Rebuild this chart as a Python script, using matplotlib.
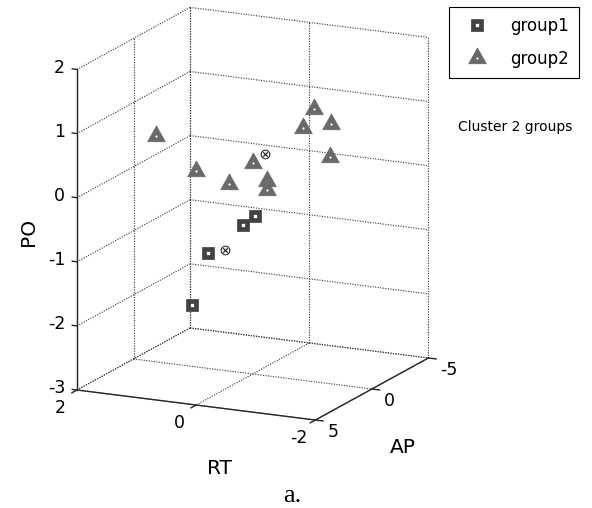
import numpy as np
import matplotlib
matplotlib.use('Agg')
import matplotlib.pyplot as plt
from matplotlib.markers import MarkerStyle
from matplotlib.path import Path
from matplotlib.legend_handler import HandlerTuple
from mpl_toolkits.mplot3d import proj3d

W, H = 592, 508

# group1 (squares): RT, AP, PO
rt1 = [-0.22, -0.23, 0.18, 1.02]
ap1 = [2, 1, 3, 0]
po1 = [-0.45, -0.41, -0.84, -2.04]

# group2 (triangles)
rt2 = [1.81, -0.46, -0.66, -0.94, -1.29, 0.76, 0.18, 0.02, -0.24, -0.43]
ap2 = [-1, -3, -1, -2, 0, 1, -1, 2, 0, 1]
po2 = [0.41, 0.90, 0.81, 0.82, 0.53, 0.18, 0.18, 0.16, 0.04, 0.02]

labels = ['group1', 'group2']
rtTicks = [2, 0, -2]
apTicks = [5, 0, -5]
poTicks = [-3, -2, -1, 0, 1, 2]
rtLim = (2, -2)
apLim = (5, -5)
poLim = (-3, 2)

fig = plt.figure(figsize=(W / 100, H / 100), dpi=100)
ax = fig.add_axes([0.1, 0.1, 0.8, 0.8], projection='3d', proj_type='ortho')
ax.set_xlim(*rtLim)
ax.set_ylim(*apLim)
ax.set_zlim(*poLim)
ax.set_xticks([])
ax.set_yticks([])
ax.set_zticks([])
ax.set_box_aspect((1, 0.99, 1.257))
ax.view_init(elev=15.25, azim=-64.4)
ax.set_axis_off()

x0, x1 = rtLim
y0, y1 = apLim
z0, z1 = poLim

gridKw = dict(color='0.2', lw=0.8, ls=(0, (1, 1.3)))
axKw = dict(color='0.15', lw=1.0)
tickFont = 12.5


def label3d(x, y, z, s, **kw):
    # tick label placed at the projected position of a 3d point
    xs, ys, _ = proj3d.proj_transform(x, y, z, ax.get_proj())
    ax.text2D(xs, ys, s, fontsize=tickFont, **kw)


# dotted grid on back wall, side wall and floor
for z in poTicks:
    ax.plot([x0, x1], [y1, y1], [z, z], **gridKw)
    ax.plot([x0, x0], [y0, y1], [z, z], **gridKw)
for x in rtTicks:
    ax.plot([x, x], [y1, y1], [z0, z1], **gridKw)
    ax.plot([x, x], [y0, y1], [z0, z0], **gridKw)
for y in apTicks:
    ax.plot([x0, x0], [y, y], [z0, z1], **gridKw)
    ax.plot([x0, x1], [y, y], [z0, z0], **gridKw)

# solid axes
ax.plot([x0, x0], [y0, y0], [z0, z1], **axKw)
ax.plot([x0, x1], [y0, y0], [z0, z0], **axKw)
ax.plot([x1, x1], [y0, y1], [z0, z0], **axKw)

for z in poTicks:
    ax.plot([x0, x0 + 0.08], [y0, y0], [z, z], **axKw)
    label3d(x0 + 0.2, y0, z, str(z), ha='right', va='center')
for x in rtTicks:
    ax.plot([x, x], [y0, y0 + 0.45], [z0, z0], **axKw)
    label3d(x, y0 + 1.5, z0 - 0.13, str(x), ha='center', va='center')
for y in apTicks:
    ax.plot([x1, x1 - 0.13], [y, y], [z0, z0], **axKw)
    label3d(x1 - 0.2, y, z0 - 0.17, str(y), ha='left', va='center')

# data
triMarker = MarkerStyle(Path([(0, 1), (-0.84, -0.5), (0.84, -0.5), (0, 1)], closed=True),
                        joinstyle='miter')
triKw = dict(ls='none', marker=triMarker, ms=15, mew=0.6, color='#696969')
dotKw = dict(ls='none', marker='o', ms=1.6, mew=0, color='white')

sq, = ax.plot(rt1, ap1, po1, ls='none', marker='s', ms=6.4, mew=3.4,
              mfc='white', mec='#424242')
for rt, ap, po in zip(rt2, ap2, po2):
    tri, = ax.plot([rt], [ap], [po], **triKw)
    dot, = ax.plot([rt], [ap], [po], **dotKw)

# cluster centres
for rt, ap, po in [(rt1, ap1, po1), (rt2, ap2, po2)]:
    ax.plot([np.mean(rt)], [np.mean(ap)], [np.mean(po)], ls='none',
            marker=r'$\otimes$', ms=7, color='#222222', mew=0)

# place the box like the original figure
cornerA, targetA = (x0, y0, z0), np.array([77, H - 390])
cornerB, targetB = (x1, y1, z1), np.array([428, H - 37])


def toPx(p):
    xs, ys, _ = proj3d.proj_transform(*p, ax.get_proj())
    return ax.transData.transform((xs, ys))


S = 480
ax.set_position([0.05, 0.05, S / W, S / H])
fig.canvas.draw()
bb = ax.get_position()
org = np.array([bb.x0 * W, bb.y0 * H])
qA = (toPx(cornerA) - org) / S
qB = (toPx(cornerB) - org) / S
S = np.linalg.norm(targetB - targetA) / np.linalg.norm(qB - qA)
org = targetA - S * qA
ax.set_position([org[0] / W, org[1] / H, S / W, S / H])

leg = fig.legend([sq, (tri, dot)], labels, loc='upper right',
                 bbox_to_anchor=(579 / W, 1 - 7 / H), borderaxespad=0,
                 fancybox=False, edgecolor='black', framealpha=1, fontsize=12,
                 handlelength=2.2, handletextpad=0.9, borderpad=0.6,
                 labelspacing=0.9, numpoints=1,
                 handler_map={tuple: HandlerTuple(ndivide=1)})
leg.get_frame().set_linewidth(0.8)

fig.text(458 / W, 1 - 130.5 / H, 'Cluster 2 groups', ha='left', va='baseline', fontsize=10)
fig.text(28 / W, 1 - 232 / H, 'PO', rotation=90, ha='center', va='center', fontsize=14.5)
fig.text(219 / W, 1 - 474 / H, 'RT', ha='center', va='baseline', fontsize=14.5)
fig.text(403 / W, 1 - 453 / H, 'AP', ha='center', va='baseline', fontsize=14.5)
fig.text(292 / W, 1 - 502 / H, 'a.', ha='center', va='baseline', fontsize=19,
         family='Liberation Serif')

fig.savefig('out.png', dpi=100, facecolor='white')
